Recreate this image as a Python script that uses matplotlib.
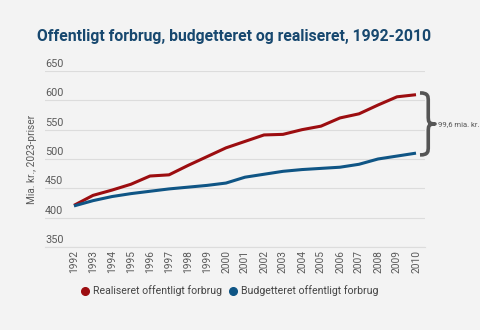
import numpy as np
import matplotlib.pyplot as plt
from matplotlib.path import Path
import matplotlib.patches as mpatches

years = list(range(1992, 2011))
realiseret = [421, 438, 447, 457, 471, 473, 489, 504, 519, 530, 541, 542, 550, 556,
              570, 577, 592, 606, 609.6]
budgetteret = [420, 429, 436, 441, 445, 449, 452, 455, 459, 469, 474, 479, 482, 484,
               486, 491, 500, 505, 510]
y_ticks = [350, 400, 450, 500, 550, 600, 650]
diff_label = '99,6 mia. kr.'

RED = '#9c0d10'
BLUE = '#0f5585'
BG = '#f3f3f3'

plt.rcParams['font.family'] = ['Roboto', 'DejaVu Sans']

fig = plt.figure(figsize=(4.8, 3.3), dpi=100, facecolor=BG)
ax = fig.add_axes([45 / 480, 1 - 247 / 330, 380 / 480, 176 / 330])
ax.set_facecolor(BG)

ax.plot(years, realiseret, color=RED, lw=2.2, solid_capstyle='butt', zorder=3)
ax.plot(years, budgetteret, color=BLUE, lw=2.2, solid_capstyle='butt', zorder=3)

px_per_year = 19.0
ax.set_xlim(1992 - 29 / px_per_year, 2010 + 9 / px_per_year)
ax.set_ylim(350, 650)

ax.set_yticks(y_ticks)
ax.yaxis.grid(True, color='#dcdcdc', lw=0.8)
ax.tick_params(axis='y', length=0, labelleft=False)
for v in y_ticks:
    ax.text(0.0, v + 3.5, str(v), transform=ax.get_yaxis_transform(),
            ha='left', va='bottom', fontsize=7.8, color='#5a5a5a')

ax.set_xticks(years)
ax.set_xticklabels([str(y) for y in years], rotation=90, fontsize=7.3, color='#5a5a5a')
ax.tick_params(axis='x', length=0, pad=2)

for s in ['top', 'right', 'left']:
    ax.spines[s].set_visible(False)
ax.spines['bottom'].set_color('#dcdcdc')
ax.spines['bottom'].set_linewidth(0.8)

ax.set_ylabel('Mia. kr., 2023-priser', fontsize=7.3, color='#5a5a5a')
ax.yaxis.set_label_coords(-0.022, 0.5)

# curly brace between the two end points
x0 = 2010 + 4 / px_per_year
w = 15 / px_per_year
top, bot = realiseret[-1] + 3, budgetteret[-1] - 3
mid = (top + bot) / 2
r = 14
xm = x0 + 0.55 * w
verts = [(x0, top), (xm, top), (xm, top - r * 0.4), (xm, top - r),
         (xm, mid + r),
         (xm, mid + r * 0.3), (xm, mid), (x0 + w, mid),
         (xm, mid), (xm, mid - r * 0.3), (xm, mid - r),
         (xm, bot + r),
         (xm, bot + r * 0.4), (xm, bot), (x0, bot)]
codes = [Path.MOVETO, Path.CURVE4, Path.CURVE4, Path.CURVE4,
         Path.LINETO,
         Path.CURVE4, Path.CURVE4, Path.CURVE4,
         Path.CURVE4, Path.CURVE4, Path.CURVE4,
         Path.LINETO,
         Path.CURVE4, Path.CURVE4, Path.CURVE4]
brace = mpatches.PathPatch(Path(verts, codes), fill=False, edgecolor='#555555',
                           lw=2.6, clip_on=False, zorder=4, joinstyle='round')
ax.add_patch(brace)
ax.text(x0 + w + 0.16, mid, diff_label, fontsize=5.5, color='#555555',
        ha='left', va='center', clip_on=False)

fig.text(37 / 480, 1 - 36 / 330, 'Offentligt forbrug, budgetteret og realiseret, 1992-2010',
         fontsize=11.3, fontweight='bold', color='#17486f', ha='left', va='center')

handles = [plt.Line2D([], [], marker='o', ls='', color=RED, markersize=5.5,
                      label='Realiseret offentligt forbrug'),
           plt.Line2D([], [], marker='o', ls='', color=BLUE, markersize=5.5,
                      label='Budgetteret offentligt forbrug')]
fig.legend(handles=handles, loc='center', bbox_to_anchor=(229 / 480, 1 - 291 / 330),
           ncol=2, frameon=False, fontsize=7.6, handletextpad=0.3, columnspacing=0.5,
           labelcolor='#444444', handlelength=1.0)

fig.savefig('out.png', dpi=100, facecolor=BG)
